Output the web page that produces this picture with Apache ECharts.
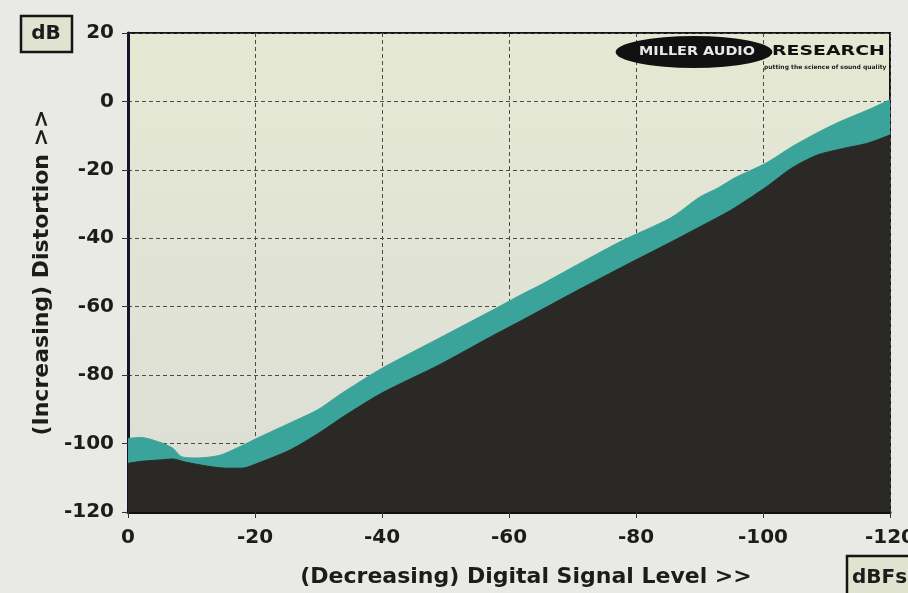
<!DOCTYPE html>
<html>
<head>
<meta charset="utf-8">
<script src="https://cdn.jsdelivr.net/npm/echarts@6/dist/echarts.min.js"></script>
<style>
  html, body { margin: 0; padding: 0; background: #e9e9e6; }
  #main { width: 908px; height: 593px; }
</style>
</head>
<body>
<div id="main"></div>
<script>
// signal level (dBFs) and distortion (dB)
var upperLevel = [0, -2, -5, -7, -8.5, -11, -14.5, -17.5, -20.5, -25.5, -30, -33.5, -40, -49, -57, -62, -65, -70, -77.5, -85.5, -90, -93, -95.5, -100.5, -104.5, -108.5, -112, -116.5, -120];
var upperDist  = [-98.5, -98.2, -99.6, -101.3, -103.9, -104.2, -103.4, -101, -98.3, -94, -90, -85.5, -78, -69.2, -61.4, -56.4, -53.6, -48.5, -41, -34, -28, -25.2, -22.4, -18, -13.3, -9.2, -6, -2.5, 0.5];
var lowerLevel = [0, -2, -5, -7, -9, -12.5, -15.5, -18, -20.5, -25.5, -30, -34, -40, -49, -57, -62, -65, -70, -77.5, -85.5, -90, -95, -100.5, -104.5, -108.5, -112.5, -116.5, -120];
var lowerDist  = [-105.8, -105.2, -104.8, -104.5, -105.4, -106.6, -107.2, -107.2, -105.7, -101.9, -97, -92, -85.2, -77, -68.9, -64, -61, -56, -48.7, -41.1, -36.7, -31.7, -25, -19.5, -15.7, -13.8, -12.2, -9.8];

function pairs(xs, ys) {
    var out = [];
    for (var i = 0; i < xs.length; i++) out.push([xs[i], ys[i]]);
    return out;
}

var myChart = echarts.init(document.getElementById('main'));
var font = 'DejaVu Sans';

option = {
    backgroundColor: '#e9e9e6',
    animation: false,
    grid: {
        left: 128, right: 18, top: 33, bottom: 81,
        outerBoundsMode: 'none',
        containLabel: false,
        show: true,
        borderColor: '#141414',
        borderWidth: 2,
        backgroundColor: new echarts.graphic.LinearGradient(0, 0, 0, 1, [
            { offset: 0, color: '#e5e9d3' },
            { offset: 1, color: '#dcded6' }
        ])
    },
    xAxis: {
        type: 'value',
        min: -120, max: 0, interval: 20,
        inverse: true,
        name: '(Decreasing) Digital Signal Level >>',
        nameLocation: 'middle',
        nameGap: 54,
        nameTextStyle: { fontFamily: font, fontWeight: 'bold', fontSize: 22, color: '#1c1c1c', padding: [0, 0, 0, 34] },
        axisLine: { onZero: false, lineStyle: { color: '#111', width: 3 } },
        axisTick: { show: true, length: 6, lineStyle: { color: '#333' } },
        axisLabel: { fontFamily: font, fontWeight: 'bold', fontSize: 20, color: '#1c1c1c', margin: 16 },
        splitLine: { show: true, lineStyle: { color: '#4a4a48', type: [4, 3], width: 1 } }
    },
    yAxis: {
        type: 'value',
        min: -120, max: 20, interval: 20,
        name: '(Increasing) Distortion >>',
        nameLocation: 'middle',
        nameGap: 75,
        nameTextStyle: { fontFamily: font, fontWeight: 'bold', fontSize: 22, color: '#1c1c1c' },
        axisLine: { show: true, onZero: false, lineStyle: { color: '#14142a', width: 3 } },
        axisTick: { show: true, length: 6, lineStyle: { color: '#333' } },
        axisLabel: { fontFamily: font, fontWeight: 'bold', fontSize: 20, color: '#1c1c1c', margin: 14 },
        splitLine: { show: true, lineStyle: { color: '#4a4a48', type: [4, 3], width: 1 } }
    },
    graphic: [
        { type: 'rect', shape: { x: 21, y: 16, width: 51, height: 36 },
          style: { fill: '#dfe3cf', stroke: '#151515', lineWidth: 2.5 } },
        { type: 'text', x: 46, y: 34,
          style: { text: 'dB', fontFamily: font, fontWeight: 'bold', fontSize: 20, fill: '#1c1c1c', align: 'center', verticalAlign: 'middle' } },
        { type: 'rect', shape: { x: 847, y: 556, width: 80, height: 50 },
          style: { fill: '#dfe3cf', stroke: '#151515', lineWidth: 2.5 } },
        { type: 'text', x: 852, y: 578,
          style: { text: 'dBFs', fontFamily: font, fontWeight: 'bold', fontSize: 20, fill: '#1c1c1c', verticalAlign: 'middle' } },
        // logo
        { type: 'circle', x: 694, y: 52, scaleX: 4.9, scaleY: 1, z: 100,
          shape: { cx: 0, cy: 0, r: 16 }, style: { fill: '#111' } },
        { type: 'text', x: 697, y: 52, scaleX: 1.2, z: 101,
          style: { text: 'MILLER AUDIO', fontFamily: font, fontWeight: 'bold', fontSize: 12, fill: '#e8e8e8', align: 'center', verticalAlign: 'middle' } },
        { type: 'text', x: 772, y: 51, scaleX: 1.35, z: 101,
          style: { text: 'RESEARCH', fontFamily: font, fontWeight: 'bold', fontSize: 14, fill: '#111', verticalAlign: 'middle' } },
        { type: 'text', x: 764, y: 67, z: 101,
          style: { text: 'putting the science of sound quality', fontFamily: font, fontWeight: 'bold', fontSize: 6, fill: '#222', verticalAlign: 'middle' } }
    ],
    series: [
        {
            name: 'upper',
            type: 'line',
            data: pairs(upperLevel, upperDist),
            symbol: 'none',
            smooth: 0.25,
            lineStyle: { color: '#3aa39a', width: 1 },
            areaStyle: { color: '#3aa39a', opacity: 1, origin: 'start' }
        },
        {
            name: 'lower',
            type: 'line',
            data: pairs(lowerLevel, lowerDist),
            symbol: 'none',
            smooth: 0.25,
            lineStyle: { color: '#2a2926', width: 1 },
            areaStyle: { color: '#2a2926', opacity: 1, origin: 'start' }
        }
    ]
};

myChart.setOption(option);
</script>
</body>
</html>
